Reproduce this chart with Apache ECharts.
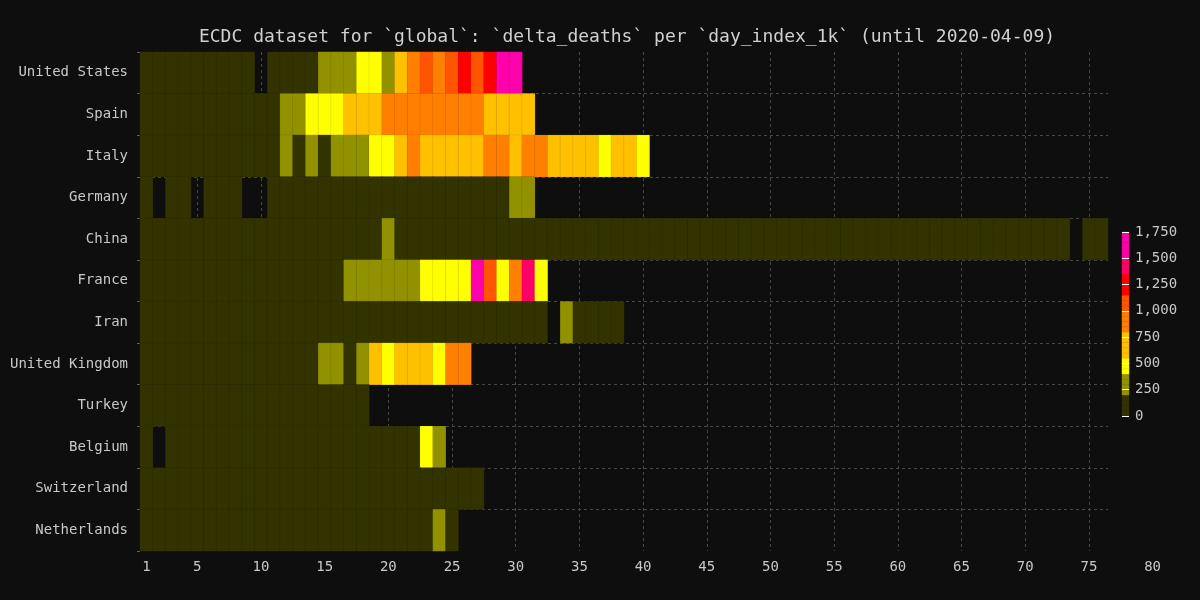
<!DOCTYPE html>
<html><head><meta charset="utf-8">
<script src="https://cdn.jsdelivr.net/npm/echarts@6/dist/echarts.min.js"></script>
<style>html,body{margin:0;padding:0;background:#0e0e0e;}#c{width:1200px;height:600px;}</style>
</head><body><div id="c"></div>
<script>
// ---- data (top to bottom rows), one value per day_index_1k, null = no cell ----
const countries = ['United States','Spain','Italy','Germany','China','France','Iran','United Kingdom','Turkey','Belgium','Switzerland','Netherlands'];
const unitedStates = [7,3,7,9,11,17,23,10,82,null,49,46,113,141,225,247,268,402,525,264,661,909,1059,915,1104,1321,1120,1255,1690,1745];
const spain = [7,11,7,36,48,62,97,98,102,107,169,235,324,394,462,514,738,655,769,832,838,812,849,864,950,932,809,674,637,743,757];
const italy = [8,5,18,27,28,41,49,36,133,97,168,196,189,250,175,368,349,345,475,427,627,793,651,601,743,683,712,919,889,756,812,837,727,760,766,681,525,636,604,542];
const germany = [2,null,1,3,null,4,1,8,null,null,11,20,23,24,31,27,43,28,88,70,64,104,128,149,140,168,169,127,92,206,246];
const china = [16,15,24,26,26,38,43,46,45,57,64,65,73,73,86,89,97,108,97,254,
  13,143,142,105,98,136,114,118,109,97,150,71,52,29,44,47,35,42,31,38,
  31,30,28,27,22,17,22,11,7,13,10,14,13,11,8,3,7,6,9,7,
  4,6,5,3,5,4,4,1,6,3,3,7,2,null,2,1];
const france = [2,3,15,15,13,18,12,36,21,27,69,128,78,112,112,186,240,231,365,299,319,292,418,499,509,471,1600,1053,518,833,1417,541];
const iran = [11,23,15,16,15,21,49,43,54,63,75,85,97,113,129,135,147,149,149,123,129,127,122,143,157,144,139,123,117,141,138,124,null,292,136,133,121,117];
const unitedKingdom = [10,14,20,16,33,40,33,56,48,54,87,41,115,181,209,260,180,381,600,540,684,708,621,439,786,938];
const turkey = [9,7,15,16,15,17,16,33,46,37,63,69,79,76,73,75,76,87];
const belgium = [4,null,9,7,23,11,34,44,42,56,69,64,82,78,69,164,140,140,186,164,185,179,403,205];
const switzerland = [2,3,1,4,3,7,6,13,14,20,13,33,18,41,48,54,25,48,62,59,36,45,52,50,54,57,59];
const netherlands = [4,4,19,15,18,30,43,34,63,80,78,112,93,78,132,93,175,134,166,114,164,115,101,234,148];
const dayCount = 76;            // days on the heatmap axis
const labelDayCount = 80;       // days on the label axis
const xTickDays = [1,5,10,15,20,25,30,35,40,45,50,55,60,65,70,75,80];
const gridDays = [5,10,15,20,25,30,35,40,45,50,55,60,65,70,75];
// colour scale
const pieceBreaks = [0,192,388,560,780,1000,1170,1375,1500];
const pieceColors = ['#333300','#929200','#ffff00','#ffc000','#ff8000','#ff5500','#ff0000','#ff0066','#ff00aa'];
const legendMax = 1750, legendStep = 250, legendBin = 50;

// ---- build ----
const rows = [unitedStates,spain,italy,germany,china,france,iran,unitedKingdom,turkey,belgium,switzerland,netherlands];
const days = Array.from({length: dayCount}, (_, i) => String(i + 1));
const labelDays = Array.from({length: labelDayCount}, (_, i) => String(i + 1));
const heat = [];
rows.forEach((arr, r) => arr.forEach((v, d) => heat.push([d, r, v == null ? '-' : v])));
const legendBins = [];
const legendData = [];
for (let i = 0; i * legendBin < legendMax; i++) {
  legendBins.push(String(i));
  legendData.push([0, i, i * legendBin + legendBin / 2]);
}
const pieces = pieceBreaks.map((b, i) => {
  const p = {gte: b, color: pieceColors[i]};
  if (i < pieceBreaks.length - 1) p.lt = pieceBreaks[i + 1];
  return p;
});

const font = 'DejaVu Sans Mono';
const txt = '#c8c8c8';
const dash = {color: '#474747', type: [3, 3], width: 1};
const chart = echarts.init(document.getElementById('c'), null, {renderer: 'canvas'});
chart.setOption({
  backgroundColor: '#0e0e0e',
  animation: false,
  title: {
    text: 'ECDC dataset for `global`: `delta_deaths` per `day_index_1k` (until 2020-04-09)',
    left: 622, top: 23, textAlign: 'center',
    textStyle: {color: '#d0d0d0', fontFamily: font, fontSize: 18, fontWeight: 'normal'}
  },
  grid: [
    {left: 140, right: 92, top: 52, bottom: 49},
    {left: 146.37, right: 47.4, top: 52, bottom: 49},
    {left: 1122, width: 7, top: 232, height: 184}
  ],
  xAxis: [
    {type: 'category', gridIndex: 0, data: days, show: false},
    {type: 'category', gridIndex: 1, data: labelDays, boundaryGap: false,
     axisLine: {show: false}, axisTick: {show: false},
     axisLabel: {color: txt, fontFamily: font, fontSize: 14, margin: 9,
       interval: (i, v) => xTickDays.indexOf(+v) >= 0},
     splitLine: {show: true, lineStyle: dash,
       interval: (i, v) => gridDays.indexOf(+v) >= 0}},
    {type: 'category', gridIndex: 2, data: ['c'], show: false}
  ],
  yAxis: [
    {type: 'category', gridIndex: 0, data: countries, inverse: true,
     axisLine: {show: false},
     axisTick: {show: true, length: 3, lineStyle: {color: '#666'}},
     axisLabel: {color: txt, fontFamily: font, fontSize: 14, margin: 12},
     splitLine: {show: true, showMinLine: false, showMaxLine: false, lineStyle: dash}},
    {type: 'value', gridIndex: 1, show: false},
    {type: 'category', gridIndex: 2, data: legendBins, show: false},
    {type: 'value', gridIndex: 2, min: 0, max: legendMax, interval: legendStep, position: 'right', z: 10,
     axisLine: {show: false},
     axisTick: {show: true, inside: true, length: 7, lineStyle: {color: '#ffffff', width: 1}},
     splitLine: {show: false},
     axisLabel: {color: txt, fontFamily: font, fontSize: 14, margin: 6,
       formatter: v => v.toLocaleString('en-US')}}
  ],
  visualMap: {type: 'piecewise', show: false, seriesIndex: [0, 1], pieces: pieces},
  series: [
    {type: 'heatmap', xAxisIndex: 0, yAxisIndex: 0, data: heat,
     itemStyle: {borderColor: 'rgba(0,0,0,0.08)', borderWidth: 1}},
    {type: 'heatmap', xAxisIndex: 2, yAxisIndex: 2, data: legendData, silent: true,
     itemStyle: {borderColor: 'rgba(0,0,0,0.12)', borderWidth: 0.5}}
  ]
});
</script></body></html>
